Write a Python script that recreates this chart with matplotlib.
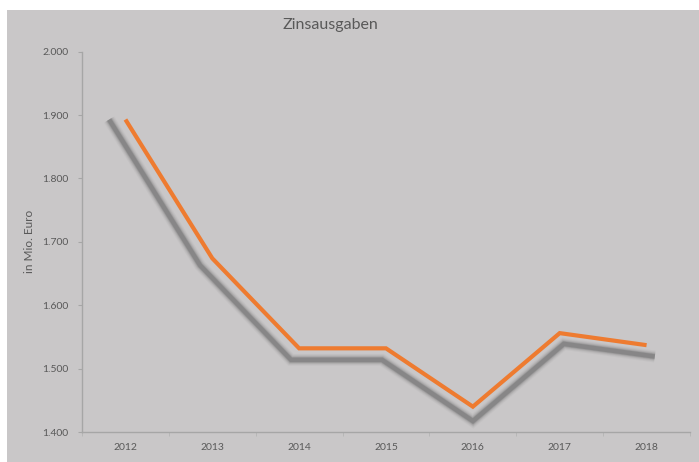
import numpy as np
import matplotlib.pyplot as plt
from matplotlib.patches import Rectangle
from matplotlib.transforms import Affine2D

# data
years = ["2012", "2013", "2014", "2015", "2016", "2017", "2018"]
zins = [1893, 1674, 1532, 1532, 1440, 1556, 1537]
y_ticks = [1400, 1500, 1600, 1700, 1800, 1900, 2000]
y_labels = ["1.400", "1.500", "1.600", "1.700", "1.800", "1.900", "2.000"]

bg = "#c9c7c8"
txt = "#595959"
orange = "#ee7b30"

plt.rcParams["font.family"] = ["Lato", "DejaVu Sans"]

fig = plt.figure(figsize=(6.99, 4.62), dpi=100, facecolor=bg)
# white margins at top and left of the scanned chart
fig.patches.append(Rectangle((0, 1 - 10 / 462), 1, 10 / 462, transform=fig.transFigure,
                             facecolor="white", edgecolor="none"))
fig.patches.append(Rectangle((0, 0), 7 / 699, 1, transform=fig.transFigure,
                             facecolor="white", edgecolor="none"))

ax = fig.add_axes([82 / 699, 30 / 462, 608 / 699, 380.3 / 462])
ax.set_facecolor("none")

x = np.arange(len(years))

# perspective-like shadow: same line, scaled slightly in pixel space
cx, cy, s = 472, 344, 1.047
shadow_tr = ax.transData + Affine2D().translate(-cx, -cy).scale(s, 1.05).translate(cx, cy)
for lw, a in [(12, 0.07), (10, 0.1), (8, 0.2), (6, 0.35), (4.5, 0.6)]:
    ax.plot(x, zins, color="#7a7a7a", lw=lw * 0.72, alpha=a, transform=shadow_tr,
            solid_joinstyle="miter", solid_capstyle="butt", zorder=2)

ax.plot(x, zins, color=orange, lw=3.0, solid_joinstyle="miter", solid_capstyle="butt", zorder=3)

ax.set_xlim(-0.5, len(years) - 0.5)
ax.set_ylim(1400, 2000)
ax.set_xticks(x)
ax.set_xticklabels(years)
ax.set_xticks(np.arange(len(years) + 1) - 0.5, minor=True)
ax.set_yticks(y_ticks)
ax.set_yticklabels(y_labels)

ax.tick_params(axis="x", which="major", length=0, pad=8, labelsize=7.5, labelcolor=txt)
ax.tick_params(axis="x", which="minor", length=3, color="#b4b4b4")
ax.tick_params(axis="y", length=3, color="#a6a6a6", pad=7, labelsize=7.5, labelcolor=txt)

for side in ["top", "right"]:
    ax.spines[side].set_visible(False)
for side in ["left", "bottom"]:
    ax.spines[side].set_color("#a6a6a6")
    ax.spines[side].set_linewidth(1.0)

ax.set_ylabel("in Mio. Euro", fontsize=8.5, color=txt, labelpad=5)
fig.text(330 / 699, 1 - 25 / 462, "Zinsausgaben", ha="center", va="center", fontsize=11.5, color=txt)

fig.savefig("out.png", dpi=100, facecolor=fig.get_facecolor())
